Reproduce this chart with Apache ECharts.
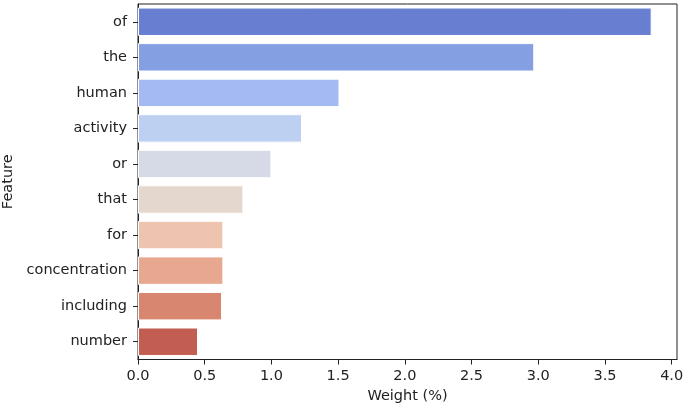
<!DOCTYPE html>
<html><head><meta charset="utf-8">
<script src="https://cdn.jsdelivr.net/npm/echarts@6/dist/echarts.min.js"></script>
<style>html,body{margin:0;padding:0;background:#fff}#c{width:685px;height:404px}</style>
</head><body><div id="c"></div>
<script>
const categories = ["of","the","human","activity","or","that","for","concentration","including","number"];
const weights = [3.85, 2.97, 1.51, 1.23, 1.00, 0.79, 0.64, 0.64, 0.63, 0.45];
const barColors = ["#687ed0","#84a0e3","#a3bbf2","#bdd0f1","#d5dae6","#e4d7ce","#ecc4b0","#e8a88f","#d98671","#c25d51"];
const xTicks = [0,0.5,1.0,1.5,2.0,2.5,3.0,3.5,4.0];

const chart = echarts.init(document.getElementById('c'), null, {renderer:'canvas'});
const font = 'DejaVu Sans';
const fs = 14.5;
chart.setOption({
  animation:false,
  grid:{left:138, right:8, top:4, bottom:44.5, outerBoundsMode:'none', containLabel:false,
        show:true, borderColor:'#222', borderWidth:1, backgroundColor:'transparent'},
  xAxis:{
    type:'value', min:0, max:4.04,
    name:'Weight (%)', nameLocation:'middle', nameGap:28,
    nameTextStyle:{fontFamily:font, fontSize:fs, color:'#222'},
    axisLine:{show:true, lineStyle:{color:'#222'}},
    axisTick:{show:true, length:5, lineStyle:{color:'#222'}, customValues:xTicks},
    axisLabel:{fontFamily:font, fontSize:fs, color:'#222', margin:9, customValues:xTicks, formatter:v=>v.toFixed(1)},
    splitLine:{show:false}
  },
  yAxis:{
    type:'category', data:categories, inverse:true,
    name:'Feature', nameLocation:'middle', nameGap:122, nameRotate:90,
    nameTextStyle:{fontFamily:font, fontSize:fs, color:'#222'},
    axisLine:{show:true, lineStyle:{color:'#222'}},
    axisTick:{show:true, length:5, alignWithLabel:true, lineStyle:{color:'#222'}},
    axisLabel:{fontFamily:font, fontSize:fs, color:'#222', margin:11},
    splitLine:{show:false}
  },
  series:[{
    type:'bar', barCategoryGap:'20%',
    data:weights.map((v,i)=>({value:v, itemStyle:{color:barColors[i]}})),
    itemStyle:{borderColor:'#ffffff', borderWidth:1}
  }]
});
</script></body></html>
